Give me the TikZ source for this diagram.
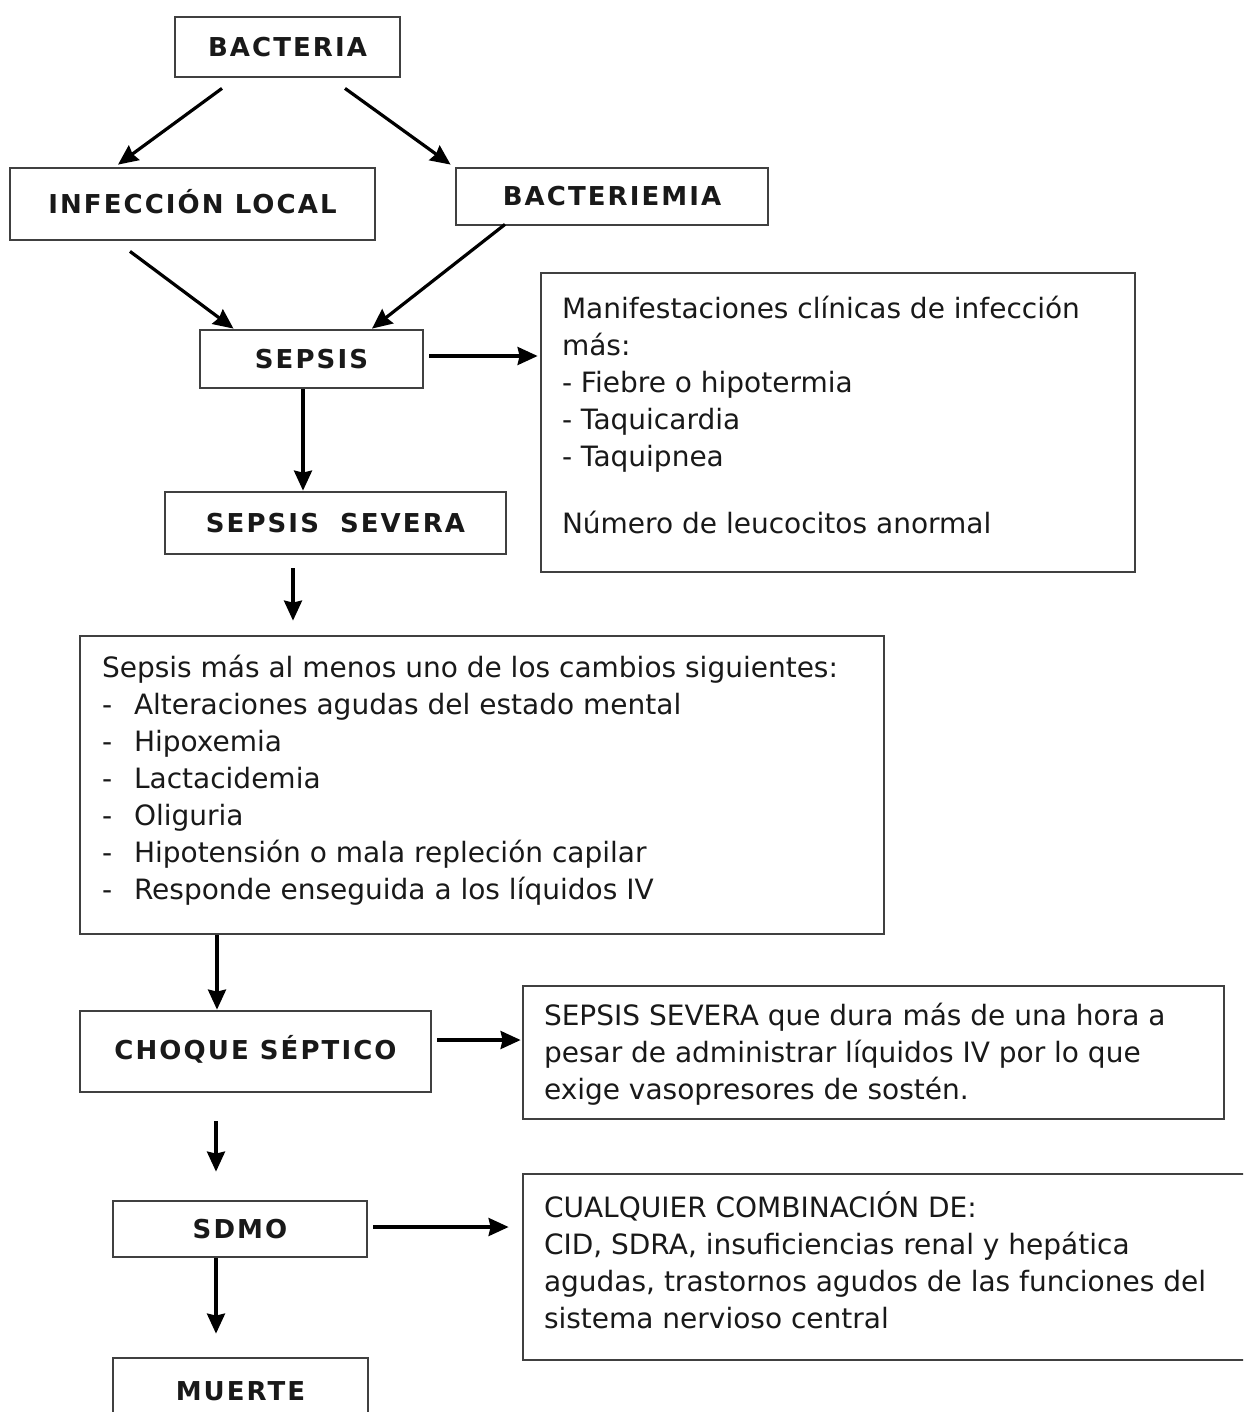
\documentclass[tikz,border=0pt]{standalone}
\usepackage{fontspec}
\setmainfont{DejaVu Sans}
\newfontfamily\titlefont[LetterSpace=8]{DejaVu Sans Bold}
\usetikzlibrary{arrows.meta,calc}

\tikzset{
  box/.style={draw=black!75, line width=1.4pt, fill=white, inner sep=0pt},
  sz/.style 2 args={minimum width=#1*0.5pt, minimum height=#2*0.5pt},
  title/.style={box, text=black!90, font=\titlefont\fontsize{13}{15}\selectfont},
  body/.style={inner sep=0pt, align=left, anchor=west, text=black!90,
               font=\fontsize{14}{18.5}\selectfont},
  arr/.style={line width=1.6pt, -{Stealth[length=10pt,width=9pt,inset=1pt]}}
}
\newcommand{\itm}[1]{\makebox[16pt][l]{-}#1}

\begin{document}
\begin{tikzpicture}[x=0.5pt,y=-0.5pt]
\clip (0,0) rectangle (1243,1412);
\useasboundingbox (0,0) rectangle (1243,1412);

% main chain boxes
\node[title, sz={225}{60}]  (bact)   at (287.5,47)   {BACTERIA};
\node[title, sz={365}{72}]  (inf)    at (192.5,204)  {\raisebox{3pt}{INFECCIÓN LOCAL}};
\node[title, sz={312}{57}]  (bactm)  at (612,196.5)  {BACTERIEMIA};
\node[title, sz={223}{58}]  (sepsis) at (311.5,359)  {SEPSIS};
\node[title, sz={341}{62}]  (sev)    at (335.5,523)  {SEPSIS\hspace{5pt} SEVERA};
\node[title, sz={351}{81}]  (choque) at (255.5,1051.5) {\raisebox{4pt}{CHOQUE SÉPTICO}};
\node[title, sz={254}{56}]  (sdmo)   at (240,1229)   {SDMO};
\node[title, sz={255}{66}]  (muerte) at (240.5,1391) {MUERTE};

% description boxes
\node[box, sz={594}{299}] (man)  at (838,422.5) {};
\node[body] (mant) at ($(man.west)+(22,-8)$)
  {Manifestaciones clínicas de infección\\ más:\\ - Fiebre o hipotermia\\
   - Taquicardia\\ - Taquipnea\\[15pt] Número de leucocitos anormal};

\node[box, sz={804}{298}] (crit) at (482,785) {};
\node[body] (critt) at ($(crit.west)+(23,-5)$)
  {Sepsis más al menos uno de los cambios siguientes:\\
   \itm{Alteraciones agudas del estado mental}\\
   \itm{Hipoxemia}\\
   \itm{Lactacidemia}\\
   \itm{Oliguria}\\
   \itm{Hipotensión o mala repleción capilar}\\
   \itm{Responde enseguida a los líquidos IV}};

\node[box, sz={701}{133}] (def) at (873.5,1052.5) {};
\node[body] (deft) at ($(def.west)+(22,2)$)
  {SEPSIS SEVERA que dura más de una hora a\\
   pesar de administrar líquidos IV por lo que\\
   exige vasopresores de sostén.};

\node[box, sz={737}{186}] (comb) at (891.5,1267) {};
\node[body] (combt) at ($(comb.west)+(22,-7)$)
  {CUALQUIER COMBINACIÓN DE:\\
   CID, SDRA, insuficiencias renal y hepática\\
   agudas, trastornos agudos de las funciones del\\
   sistema nervioso central};

% connectors
\draw[arr] ($(bact.south)+(-65.5,10)$) -- ($(inf.north)+(-74.5,-2)$);
\draw[arr] ($(bact.south)+(57.5,10)$) -- ($(bactm.north west)+(-4,-2)$);
\draw[arr] ($(inf.south)+(-62.5,10)$) -- ($(sepsis.north)+(-78,0)$);
\draw[arr] ($(bactm.south)+(-107,-2)$) -- ($(sepsis.north)+(60.5,0)$);
\draw[arr] ($(sepsis.east)+(5,-3)$) -- ($(man.west |- sepsis.east)+(-2,-3)$);
\draw[arr] ($(sepsis.south)+(-8.5,0)$) -- ($(sev.north -| sepsis.south)+(-8.5,0)$);
\draw[arr] ($(sev.south)+(-42.5,13)$) -- ($(crit.north -| sev.south)+(-42.5,-14)$);
\draw[arr] ($(crit.south)+(-265,0)$) -- ($(choque.north -| crit.south)+(-265,0)$);
\draw[arr] ($(choque.east)+(5,-11.5)$) -- ($(def.west |- choque.east)+(-1,-11.5)$);
\draw[arr] ($(choque.south)+(-39.5,28)$) -- ($(sdmo.north)+(-24,-28)$);
\draw[arr] ($(sdmo.east)+(5,-2)$) -- ($(comb.west |- sdmo.east)+(-13,-2)$);
\draw[arr] ($(sdmo.south)+(-24,0)$) -- ($(muerte.north)+(-24.5,-23)$);
\end{tikzpicture}
\end{document}
